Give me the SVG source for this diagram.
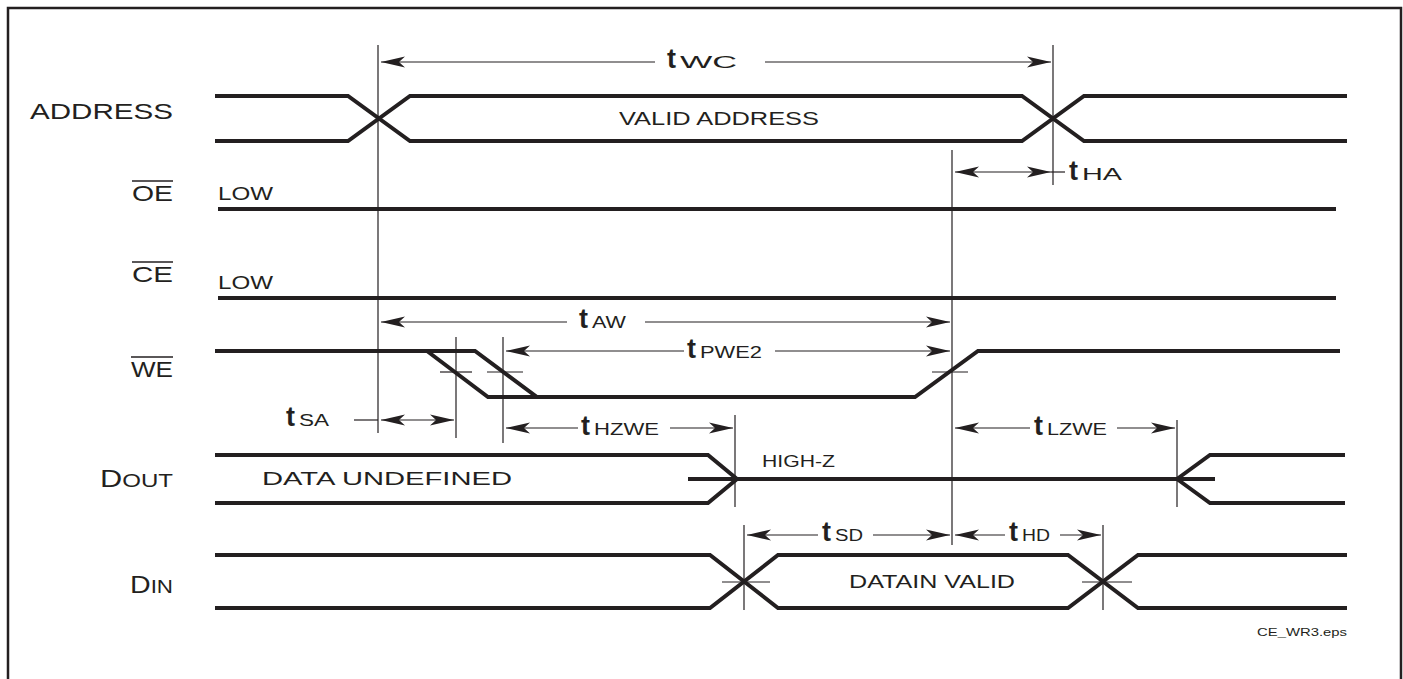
<svg xmlns="http://www.w3.org/2000/svg" width="1403" height="679" viewBox="0 0 1403 679">
<style>
  text { font-family: "Liberation Sans", Arial, sans-serif; fill: #231f20; }
  .lbl { font-size: 22px; }
  .in { font-size: 18px; }
  .t { font-size: 27px; font-weight: bold; }
  .sub { font-size: 16px; }
  .sig { fill: none; stroke: #231f20; stroke-width: 4; stroke-linejoin: miter; }
  .thin { fill: none; stroke: #231f20; stroke-width: 1.2; }
  .arr { fill: none; stroke: #231f20; stroke-width: 1.2; marker-end: url(#ah); }
  .arr2 { fill: none; stroke: #231f20; stroke-width: 1.2; marker-start: url(#ah); }
  .arr3 { fill: none; stroke: #231f20; stroke-width: 1.2; marker-start: url(#ah); marker-end: url(#ah); }
  .ovl { stroke: #231f20; stroke-width: 1.6; }
</style>
<defs>
  <marker id="ah" viewBox="-24 -6 25 12" refX="0" refY="0" markerWidth="25" markerHeight="12" markerUnits="userSpaceOnUse" orient="auto-start-reverse">
    <path d="M0,0 L-24,-5.5 L-18,0 L-24,5.5 Z" fill="#231f20"/>
  </marker>
</defs>
<rect x="0" y="0" width="1403" height="679" fill="#ffffff"/>
<path d="M8,690 V8 H1401 V690" fill="none" stroke="#231f20" stroke-width="2.5"/>

<g id="labels">
  <text class="lbl" x="30" y="119" textLength="143" lengthAdjust="spacingAndGlyphs">ADDRESS</text>
  <g id="oe-label"><text class="lbl" x="132" y="201" textLength="41" lengthAdjust="spacingAndGlyphs">OE</text><line class="ovl" x1="132" y1="181" x2="173" y2="181"/></g>
  <g id="ce-label"><text class="lbl" x="132" y="282" textLength="41" lengthAdjust="spacingAndGlyphs">CE</text><line class="ovl" x1="132" y1="262" x2="173" y2="262"/></g>
  <g id="we-label"><text class="lbl" x="131" y="377" textLength="42" lengthAdjust="spacingAndGlyphs">WE</text><line class="ovl" x1="131" y1="357" x2="173" y2="357"/></g>
  <text x="100" y="487" textLength="73" lengthAdjust="spacingAndGlyphs"><tspan font-size="23">D</tspan><tspan font-size="18">OUT</tspan></text>
  <text x="130" y="593" textLength="43" lengthAdjust="spacingAndGlyphs"><tspan font-size="23">D</tspan><tspan font-size="18">IN</tspan></text>
</g>

<g id="address">
  <path class="sig" d="M215,96 H348 L410,141 H1022 L1084,96 H1347"/>
  <path class="sig" d="M215,141 H348 L410,96 H1022 L1084,141 H1347"/>
  <text class="in" x="619" y="125" textLength="200" lengthAdjust="spacingAndGlyphs">VALID ADDRESS</text>
</g>

<g id="oe">
  <path class="sig" d="M218,209 H1336"/>
  <text class="in" x="218" y="200" textLength="55" lengthAdjust="spacingAndGlyphs">LOW</text>
</g>

<g id="ce">
  <path class="sig" d="M218,298 H1336"/>
  <text class="in" x="218" y="289" textLength="55" lengthAdjust="spacingAndGlyphs">LOW</text>
</g>

<g id="we">
  <path class="sig" d="M215,351 H475 L537,397 H915 L978,351 H1340"/>
  <path class="sig" d="M427,351 L488,397 H537"/>
</g>

<g id="dout">
  <path class="sig" d="M215,455 H708 L737,479 L708,503 H215"/>
  <path class="sig" d="M688,479 H1215"/>
  <path class="sig" d="M1177,479 L1210,455 H1345"/>
  <path class="sig" d="M1177,479 L1210,503 H1345"/>
  <text class="in" x="262" y="485" textLength="250" lengthAdjust="spacingAndGlyphs">DATA UNDEFINED</text>
  <text class="sub" x="762" y="467" textLength="73" lengthAdjust="spacingAndGlyphs">HIGH-Z</text>
</g>

<g id="din">
  <path class="sig" d="M215,555 H710 L778,608 H1068 L1138,555 H1347"/>
  <path class="sig" d="M215,608 H710 L778,555 H1068 L1138,608 H1347"/>
  <text class="in" x="849" y="588" textLength="166" lengthAdjust="spacingAndGlyphs">DATAIN VALID</text>
</g>

<g id="connectors">
  <!-- vertical reference lines -->
  <line class="thin" x1="378" y1="45" x2="378" y2="433"/>
  <line class="thin" x1="1053" y1="45" x2="1053" y2="185"/>
  <line class="thin" x1="952" y1="150" x2="952" y2="545"/>
  <line class="thin" x1="456" y1="337" x2="456" y2="438"/>
  <line class="thin" x1="503" y1="337" x2="503" y2="443"/>
  <line class="thin" x1="735" y1="415" x2="735" y2="507"/>
  <line class="thin" x1="1177" y1="420" x2="1177" y2="507"/>
  <line class="thin" x1="744" y1="525" x2="744" y2="610"/>
  <line class="thin" x1="1103" y1="525" x2="1103" y2="610"/>
  <!-- crosshair ticks -->
  <line class="thin" x1="440" y1="372" x2="472" y2="372"/>
  <line class="thin" x1="487" y1="372" x2="523" y2="372"/>
  <line class="thin" x1="932" y1="372" x2="968" y2="372"/>
  <line class="thin" x1="722" y1="582" x2="770" y2="582"/>
  <line class="thin" x1="1082" y1="582" x2="1132" y2="582"/>
  <!-- tWC -->
  <line class="arr2" x1="381" y1="62" x2="655" y2="62"/>
  <line class="arr" x1="765" y1="62" x2="1051" y2="62"/>
  <!-- tHA -->
  <line class="arr3" x1="955" y1="172" x2="1051" y2="172"/>
  <line class="thin" x1="1051" y1="172" x2="1065" y2="172"/>
  <!-- tAW -->
  <line class="arr2" x1="381" y1="322" x2="567" y2="322"/>
  <line class="arr" x1="645" y1="322" x2="950" y2="322"/>
  <!-- tPWE2 -->
  <line class="arr2" x1="506" y1="351" x2="684" y2="351"/>
  <line class="arr" x1="775" y1="351" x2="950" y2="351"/>
  <!-- tSA -->
  <line class="thin" x1="354" y1="420" x2="378" y2="420"/>
  <line class="arr3" x1="381" y1="420" x2="454" y2="420"/>
  <!-- tHZWE -->
  <line class="arr2" x1="506" y1="428" x2="578" y2="428"/>
  <line class="arr" x1="670" y1="428" x2="733" y2="428"/>
  <!-- tLZWE -->
  <line class="arr2" x1="955" y1="428" x2="1030" y2="428"/>
  <line class="arr" x1="1117" y1="428" x2="1175" y2="428"/>
  <!-- tSD -->
  <line class="arr2" x1="747" y1="535" x2="818" y2="535"/>
  <line class="arr" x1="873" y1="535" x2="950" y2="535"/>
  <!-- tHD -->
  <line class="arr2" x1="955" y1="535" x2="1005" y2="535"/>
  <line class="arr" x1="1060" y1="535" x2="1101" y2="535"/>
</g>

<g id="timing-labels">
  <text x="667" y="68"><tspan class="t">t</tspan><tspan class="sub" dx="4" textLength="57" lengthAdjust="spacingAndGlyphs">WC</tspan></text>
  <text x="1069" y="180"><tspan class="t">t</tspan><tspan class="sub" dx="4" textLength="40" lengthAdjust="spacingAndGlyphs">HA</tspan></text>
  <text x="579" y="328"><tspan class="t">t</tspan><tspan class="sub" dx="4" textLength="34" lengthAdjust="spacingAndGlyphs">AW</tspan></text>
  <text x="687" y="358"><tspan class="t">t</tspan><tspan class="sub" dx="4" textLength="62" lengthAdjust="spacingAndGlyphs">PWE2</tspan></text>
  <text x="286" y="426"><tspan class="t">t</tspan><tspan class="sub" dx="4" textLength="30" lengthAdjust="spacingAndGlyphs">SA</tspan></text>
  <text x="581" y="435"><tspan class="t">t</tspan><tspan class="sub" dx="4" textLength="65" lengthAdjust="spacingAndGlyphs">HZWE</tspan></text>
  <text x="1034" y="435"><tspan class="t">t</tspan><tspan class="sub" dx="4" textLength="60" lengthAdjust="spacingAndGlyphs">LZWE</tspan></text>
  <text x="822" y="541"><tspan class="t">t</tspan><tspan class="sub" dx="4" textLength="28" lengthAdjust="spacingAndGlyphs">SD</tspan></text>
  <text x="1009" y="541"><tspan class="t">t</tspan><tspan class="sub" dx="4" textLength="28" lengthAdjust="spacingAndGlyphs">HD</tspan></text>
  <text x="1257" y="636" font-size="11" textLength="90" lengthAdjust="spacingAndGlyphs">CE_WR3.eps</text>
</g>
</svg>
